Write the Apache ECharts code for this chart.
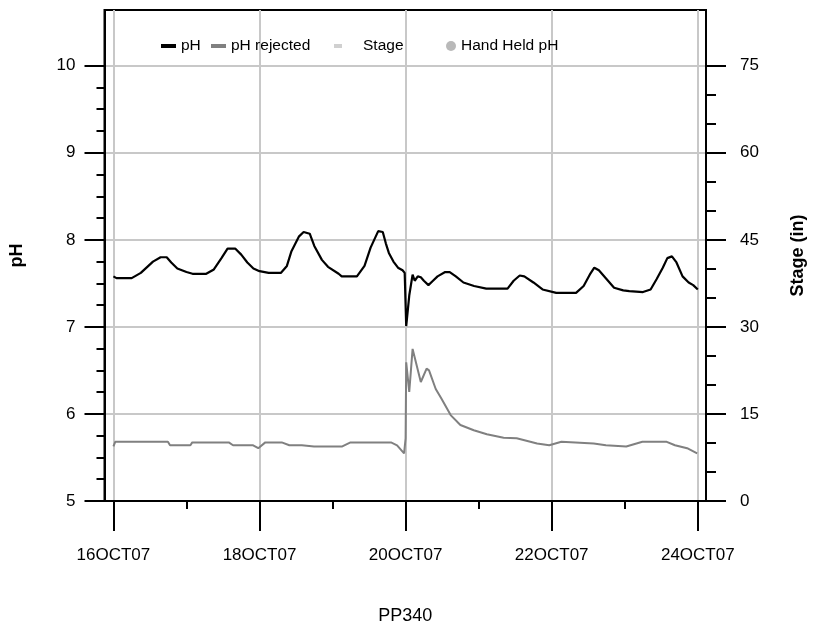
<!DOCTYPE html>
<html>
<head>
<meta charset="utf-8">
<title>PP340</title>
<script src="https://cdn.jsdelivr.net/npm/echarts@6/dist/echarts.min.js"></script>
<style>
  html, body { margin: 0; padding: 0; background: #ffffff; }
  #chart { width: 815px; height: 630px; }
</style>
</head>
<body>
<div id="chart"></div>
<script>
// Continuous pH record, hours after 16OCT07 00:00
const phHours = [0, 1, 6, 9, 13, 15.5, 17.5, 19, 21, 24, 26, 30.5, 33, 35.5, 37.5, 40, 42, 44, 46, 48,
  51, 55, 57, 58.5, 61, 62.5, 64.5, 66, 68.5, 70.5, 74, 75, 80, 82.5, 84.5, 87, 88.5, 89.5, 90.5, 92,
  93.5, 95, 95.7, 96.2, 97.2, 98.3, 99, 100, 101, 102, 103.5, 105, 106.5, 109, 110.5, 112.5, 115, 118.5,
  122.5, 129.5, 131.5, 133.5, 135, 138, 141, 145.5, 152, 154.5, 156.5, 158, 159.5, 162, 164.5, 167.5,
  169.5, 174, 176.5, 178.5, 180.5, 182, 183.5, 185, 187, 189, 190.5, 192];
const phValues = [7.58, 7.56, 7.56, 7.62, 7.75, 7.80, 7.80, 7.74, 7.67, 7.63, 7.61, 7.61, 7.66, 7.79, 7.90, 7.90, 7.83, 7.74, 7.67, 7.64,
  7.62, 7.62, 7.70, 7.87, 8.04, 8.09, 8.07, 7.93, 7.77, 7.69, 7.61, 7.58, 7.58, 7.70, 7.91, 8.10, 8.09, 7.96, 7.85, 7.75,
  7.68, 7.65, 7.62, 7.01, 7.36, 7.60, 7.53, 7.58, 7.57, 7.53, 7.48, 7.53, 7.58, 7.63, 7.63, 7.58, 7.51, 7.47,
  7.44, 7.44, 7.53, 7.59, 7.58, 7.51, 7.43, 7.39, 7.39, 7.47, 7.60, 7.68, 7.65, 7.55, 7.45, 7.42,
  7.41, 7.40, 7.43, 7.55, 7.68, 7.79, 7.81, 7.74, 7.58, 7.51, 7.48, 7.43];

// Stage record (inches), hours after 16OCT07 00:00
const stageHours = [0, 0.6, 17.9, 18.6, 25.3, 25.9, 37.9, 39.3, 45.9, 47.6, 49.9, 55.3, 57.8, 61.9, 65.9,
  75.2, 77.9, 91.2, 93.2, 95.5, 96, 96.2, 97.2, 98.3, 98.8, 101, 102.9, 103.7, 105.9, 107.8, 110.8, 114,
  118.4, 122.7, 128.2, 132.5, 139.2, 143.2, 147.2, 157.8, 161.8, 168.5, 173.8, 181.8, 184.5, 188.5, 191.8];
const stageValues = [9.4, 10.2, 10.2, 9.6, 9.6, 10.1, 10.1, 9.6, 9.6, 9.1, 10.1, 10.1, 9.6, 9.6, 9.4,
  9.4, 10.1, 10.1, 9.6, 8.2, 10.8, 23.9, 18.8, 26.2, 26.0, 20.5, 22.8, 22.5, 19.3, 17.6, 14.8, 13.1,
  12.2, 11.5, 10.9, 10.8, 9.9, 9.6, 10.2, 9.9, 9.6, 9.4, 10.2, 10.2, 9.6, 9.1, 8.2];

// Axis ticks
const dateTickHours = [0, 48, 96, 144, 192];
const dateTickLabels = ['16OCT07', '18OCT07', '20OCT07', '22OCT07', '24OCT07'];
const phTicks = [5, 6, 7, 8, 9, 10];
const stageTicks = [0, 15, 30, 45, 60, 75];

const FONT = 'Liberation Sans, Arial, Helvetica, sans-serif';
const GRID_COLOR = '#c8c8c8';

function between(ticks, parts) {
  const out = [];
  for (let i = 0; i < ticks.length - 1; i++) {
    const step = (ticks[i + 1] - ticks[i]) / parts;
    for (let k = 1; k < parts; k++) out.push(ticks[i] + step * k);
  }
  return out;
}
const dateMinor = between(dateTickHours, 2);
const phMinor = between(phTicks, 4);
const stageMinor = between(stageTicks, 3);

const zip = (xs, ys) => xs.map((x, i) => [x, ys[i]]);

const X_MIN = -2.93, X_MAX = 194.7;
const PH_MIN = 5, PH_MAX = 10.64;
const ST_MIN = 0, ST_MAX = (PH_MAX - PH_MIN) * 15;

const axisBlack = { color: '#000', width: 2 };
const noZeroLine = (show) => ({ show: show, onZero: false, lineStyle: axisBlack });

const chart = echarts.init(document.getElementById('chart'), null, { renderer: 'canvas' });

function legendItem(name, left, icon, color, w, h, textPad) {
  return {
    left: left, top: 33, orient: 'horizontal', selectedMode: false,
    itemWidth: w, itemHeight: h, itemGap: 0,
    textStyle: { fontFamily: FONT, fontSize: 15.5, color: '#000', padding: textPad || 0 },
    data: [{ name: name, icon: icon, itemStyle: { color: color, borderWidth: 0 } }]
  };
}

chart.setOption({
  animation: false,
  backgroundColor: '#ffffff',
  textStyle: { fontFamily: FONT },
  grid: {
    left: 104.5, right: 104.5, top: 10, bottom: 127,
    show: true, borderColor: '#000', borderWidth: 2, backgroundColor: 'transparent'
  },
  legend: [
    legendItem('pH', 156, 'rect', '#000000', 15, 4),
    legendItem('pH rejected', 206, 'rect', '#808080', 15, 4),
    legendItem('Stage', 329, 'rect', '#d0d0d0', 8, 4, [0, 0, 0, 16]),
    legendItem('Hand Held pH', 441, 'circle', '#a8a8a8', 10, 10)
  ],
  xAxis: [
    {
      type: 'value', min: X_MIN, max: X_MAX, position: 'bottom', offset: 0,
      axisLine: noZeroLine(true),
      axisTick: { show: true, customValues: dateTickHours, length: 30, lineStyle: axisBlack },
      axisLabel: {
        customValues: dateTickHours, margin: 46, fontSize: 17, color: '#000',
        formatter: v => dateTickLabels[dateTickHours.indexOf(v)] || ''
      },
      splitLine: { show: true, lineStyle: { color: GRID_COLOR, width: 2 } },
      name: 'PP340', nameLocation: 'middle', nameGap: 106,
      nameTextStyle: { fontSize: 18, color: '#000', fontFamily: FONT }
    },
    {
      type: 'value', min: X_MIN, max: X_MAX, position: 'bottom', offset: 0,
      axisLine: noZeroLine(false),
      axisTick: { show: true, customValues: dateMinor, length: 8, lineStyle: axisBlack },
      axisLabel: { show: false },
      splitLine: { show: false }
    }
  ],
  yAxis: [
    {
      type: 'value', min: PH_MIN, max: PH_MAX, position: 'left', offset: 0,
      axisLine: noZeroLine(true),
      axisTick: { show: true, customValues: phTicks, length: 20, lineStyle: axisBlack },
      axisLabel: { customValues: phTicks, margin: 29, fontSize: 17, color: '#000' },
      splitLine: { show: true, lineStyle: { color: GRID_COLOR, width: 2 } },
      name: 'pH', nameLocation: 'middle', nameGap: 78,
      nameTextStyle: { fontSize: 18, fontWeight: 'bold', color: '#000', fontFamily: FONT }
    },
    {
      type: 'value', min: ST_MIN, max: ST_MAX, position: 'right', offset: 0,
      axisLine: noZeroLine(true),
      axisTick: { show: true, customValues: stageTicks, length: 20, lineStyle: axisBlack },
      axisLabel: { customValues: stageTicks, margin: 34, fontSize: 17, color: '#000' },
      splitLine: { show: false },
      name: 'Stage (in)', nameLocation: 'middle', nameGap: 83,
      nameTextStyle: { fontSize: 18, fontWeight: 'bold', color: '#000', fontFamily: FONT }
    },
    {
      type: 'value', min: PH_MIN, max: PH_MAX, position: 'left', offset: 0,
      axisLine: noZeroLine(false),
      axisTick: { show: true, customValues: phMinor, length: 8, lineStyle: axisBlack },
      axisLabel: { show: false },
      splitLine: { show: false }
    },
    {
      type: 'value', min: ST_MIN, max: ST_MAX, position: 'right', offset: 0,
      axisLine: noZeroLine(false),
      axisTick: { show: true, customValues: stageMinor, length: 10, lineStyle: axisBlack },
      axisLabel: { show: false },
      splitLine: { show: false }
    }
  ],
  series: [
    {
      name: 'pH', type: 'line', xAxisIndex: 0, yAxisIndex: 0,
      data: zip(phHours, phValues), showSymbol: false, z: 4,
      itemStyle: { color: '#000000' },
      lineStyle: { color: '#000000', width: 2.2 }
    },
    {
      name: 'pH rejected', type: 'line', xAxisIndex: 0, yAxisIndex: 0,
      data: [], showSymbol: false,
      itemStyle: { color: '#808080' }, lineStyle: { color: '#808080', width: 2 }
    },
    {
      name: 'Stage', type: 'line', xAxisIndex: 0, yAxisIndex: 1,
      data: zip(stageHours, stageValues), showSymbol: false, z: 3,
      itemStyle: { color: '#808080' },
      lineStyle: { color: '#808080', width: 2 }
    },
    {
      name: 'Hand Held pH', type: 'scatter', xAxisIndex: 0, yAxisIndex: 0,
      data: [], symbolSize: 10, itemStyle: { color: '#a8a8a8' }
    }
  ]
});
</script>
</body>
</html>
